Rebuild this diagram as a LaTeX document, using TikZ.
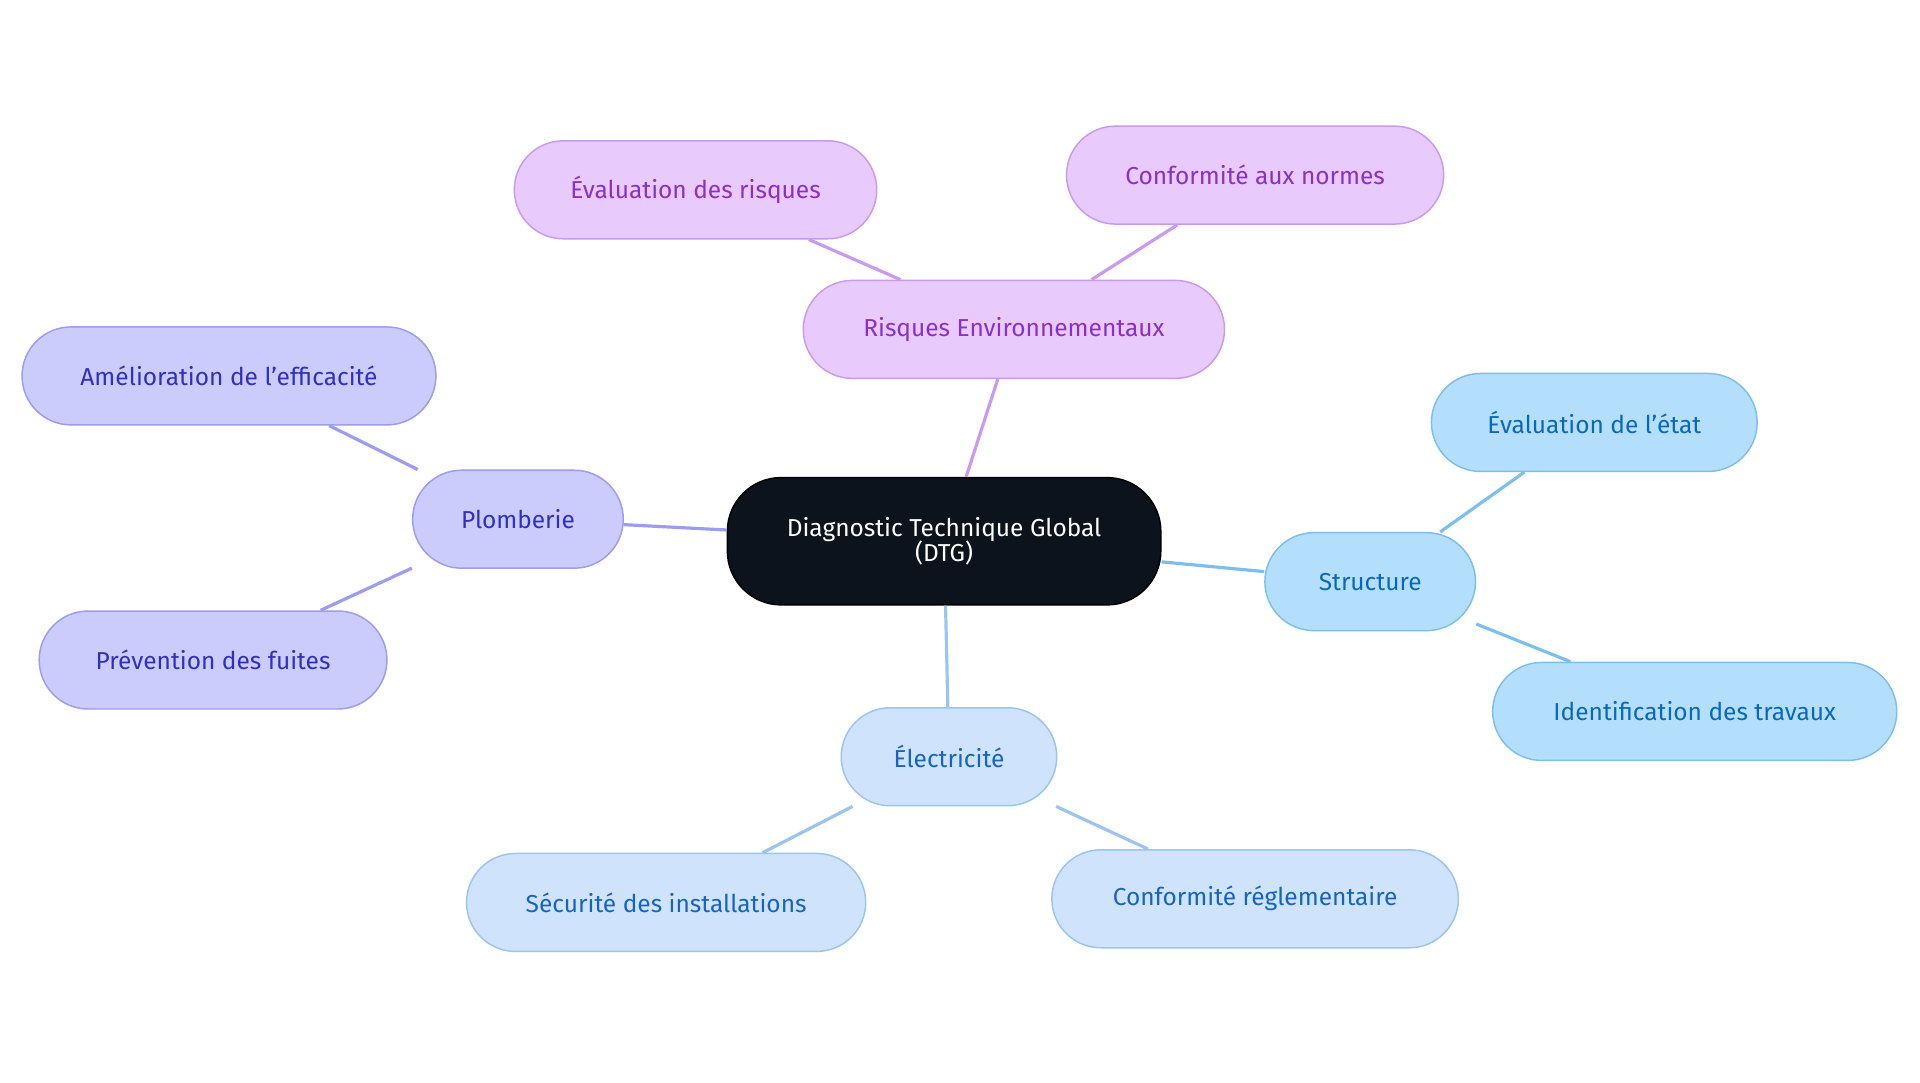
\documentclass[tikz,border=0pt]{standalone}
\usepackage{fontspec}
\setmainfont{Fira Sans}
\begin{document}
\begin{tikzpicture}[x=0.5pt,y=-0.5pt,
  base/.style={rounded corners=20pt,minimum height=40pt,inner sep=0pt,font=\fontsize{10}{11}\selectfont,line width=0.6pt},
  pur/.style={base,fill=purpleF,draw=purpleD,text=purpleT},
  vio/.style={base,fill=vioF,draw=vioD,text=vioT},
  sky/.style={base,fill=skyF,draw=skyD,text=skyT},
  ele/.style={base,fill=eleF,draw=eleD,text=eleT},
  edge/.style={line width=1.3pt}]
\definecolor{purpleF}{HTML}{E8CAFC}\definecolor{purpleD}{HTML}{C99AF0}\definecolor{purpleT}{HTML}{8A2FC9}
\definecolor{vioF}{HTML}{CBCBFC}\definecolor{vioD}{HTML}{9C9CF0}\definecolor{vioT}{HTML}{3030C0}
\definecolor{skyF}{HTML}{B4DFFC}\definecolor{skyD}{HTML}{7CBFEE}\definecolor{skyT}{HTML}{0B68B8}
\definecolor{eleF}{HTML}{CFE3FC}\definecolor{eleD}{HTML}{9CC4F0}\definecolor{eleT}{HTML}{1565C0}
\useasboundingbox (0,0) rectangle (1568,884);
\fill[white] (0,0) rectangle (1568,884);
\node[base,fill=black!85!blue!40!black,fill={rgb,255:red,13;green,19;blue,28},draw=black,text=white,minimum width=177pt,minimum height=52pt,rounded corners=22pt,align=center] (c) at (771,442) {Diagnostic Technique Global\\[-1pt](DTG)};
\node[pur,minimum width=172pt] (r) at (828,269) {Risques Environnementaux};
\node[pur,minimum width=148pt] (r1) at (568,155) {Évaluation des risques};
\node[pur,minimum width=154pt] (r2) at (1025,143) {Conformité aux normes};
\node[vio,minimum width=86pt] (p) at (423,424) {Plomberie};
\node[vio,minimum width=169pt] (p1) at (187,307) {Amélioration de l'efficacité};
\node[vio,minimum width=142pt] (p2) at (174,539) {Prévention des fuites};
\node[sky,minimum width=86pt] (s) at (1119,475) {Structure};
\node[sky,minimum width=133pt] (s1) at (1302,345) {Évaluation de l'état};
\node[sky,minimum width=165pt] (s2) at (1384,581) {Identification des travaux};
\node[ele,minimum width=88pt] (e) at (775,618) {Électricité};
\node[ele,minimum width=163pt] (e1) at (544,737) {Sécurité des installations};
\node[ele,minimum width=166pt] (e2) at (1025,734) {Conformité réglementaire};
\begin{scope}[on background layer/.style={}]
\end{scope}
\draw[edge,purpleD] (c.north) ++(18,0) -- (r);
\draw[edge,vioD] (c) -- (p);
\draw[edge,skyD] (c) -- (s);
\draw[edge,eleD] (c) -- (e);
\draw[edge,purpleD] (r) -- (r1);
\draw[edge,purpleD] (r) -- (r2);
\draw[edge,vioD] (p) -- (p1);
\draw[edge,vioD] (p) -- (p2);
\draw[edge,skyD] (s) -- (s1);
\draw[edge,skyD] (s) -- (s2);
\draw[edge,eleD] (e) -- (e1);
\draw[edge,eleD] (e) -- (e2);
\end{tikzpicture}
\end{document}
